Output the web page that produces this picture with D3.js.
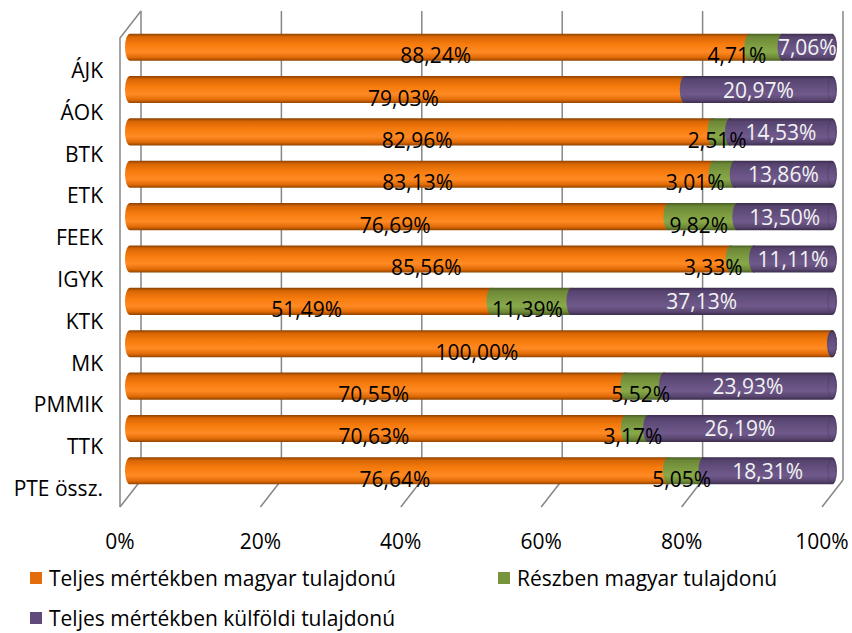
<!DOCTYPE html>
<html>
<head>
<meta charset="utf-8">
<script src="https://cdn.jsdelivr.net/npm/d3@7"></script>
<style>
  body { margin: 0; background: #fff; }
  svg { display: block; font-family: 'Open Sans', sans-serif; }
</style>
</head>
<body>
<svg id="chart"></svg>
<script>
// categories top to bottom
const categories = ['ÁJK', 'ÁOK', 'BTK', 'ETK', 'FEEK', 'IGYK', 'KTK', 'MK', 'PMMIK', 'TTK', 'PTE össz.'];
const seriesNames = ['Teljes mértékben magyar tulajdonú', 'Részben magyar tulajdonú', 'Teljes mértékben külföldi tulajdonú'];
const fullHungarian = [88.24, 79.03, 82.96, 83.13, 76.69, 85.56, 51.49, 100.00, 70.55, 70.63, 76.64];
const partHungarian = [4.71, 0, 2.51, 3.01, 9.82, 3.33, 11.39, 0, 5.52, 3.17, 5.05];
const fullForeign = [7.06, 20.97, 14.53, 13.86, 13.50, 11.11, 37.13, 0, 23.93, 26.19, 18.31];
const tickValues = [0, 20, 40, 60, 80, 100];

// labels that excel pushed to the left
const nudgedGreen = ['ÁJK', 'ETK', 'IGYK'];

const width = 852;
const height = 633;
const depth = { dx: 21, dy: -27 };
const fontSize = 21;

const svg = d3.select('#chart').attr('width', width).attr('height', height);

const xFront = d3.scaleLinear().domain([0, 100]).range([120, 822]);
const xBack = d3.scaleLinear().domain([0, 100]).range([120 + depth.dx, 822 + depth.dx]);
const xBar = d3.scaleLinear().domain([0, 100]).range([130, 832]);
const yBar = d3.scaleBand().domain(categories).range([26, 492]).paddingInner(0.36).paddingOuter(0.18);
const yLabel = d3.scaleBand().domain(categories).range([49, 509]);

const floorFront = 507;
const floorBack = floorFront + depth.dy;
const wallTop = 11;

const locale = d3.formatLocale({ decimal: ',', thousands: ' ', grouping: [3], currency: ['', ''] });
const fmt = locale.format('.2f');

const colors = [
  { name: 'orange', legend: '#e46c0a', stops: ['#8a4000', '#d96604', '#f77c0e', '#ff8a24', '#e06a05', '#8f4300'], text: '#000' },
  { name: 'green', legend: '#77933c', stops: ['#4a5e25', '#6c8736', '#7c9a40', '#88a94a', '#6f8a37', '#4a5e25'], text: '#000' },
  { name: 'purple', legend: '#604a7b', stops: ['#3b2d4d', '#57436f', '#64507f', '#70598c', '#59466f', '#3b2d4d'], text: '#f2f2f2' }
];

const defs = svg.append('defs');
colors.forEach((c) => {
  const g = defs.append('linearGradient').attr('id', 'grad-' + c.name)
    .attr('x1', 0).attr('y1', 0).attr('x2', 0).attr('y2', 1);
  const offs = [0, 0.12, 0.4, 0.68, 0.88, 1];
  c.stops.forEach((s, i) => g.append('stop').attr('offset', offs[i]).attr('stop-color', s));
});

// walls and floor
const grid = svg.append('g').attr('stroke', '#868686').attr('stroke-width', 1.5).attr('fill', 'none');
grid.selectAll('line.v')
  .data(tickValues)
  .enter()
  .append('line')
  .attr('x1', (d) => xBack(d)).attr('x2', (d) => xBack(d))
  .attr('y1', wallTop).attr('y2', floorBack);
grid.selectAll('line.f')
  .data(tickValues)
  .enter()
  .append('line')
  .attr('x1', (d) => xBack(d)).attr('y1', floorBack)
  .attr('x2', (d) => xFront(d)).attr('y2', floorFront);
grid.append('path')
  .attr('d', 'M' + xBack(0) + ',' + wallTop + 'L' + xFront(0) + ',' + (wallTop - depth.dy) +
    'L' + xFront(0) + ',' + floorFront);

// stacked bars
const stackData = categories.map((c, i) => ({
  cat: c,
  segs: [fullHungarian[i], partHungarian[i], fullForeign[i]]
}));

const cap = 5;
const bw = yBar.bandwidth();
const rows = svg.append('g').selectAll('g')
  .data(stackData)
  .enter()
  .append('g');

rows.each(function (d) {
  const row = d3.select(this);
  let start = 0;
  d.segs.forEach((v, si) => {
    const x0 = xBar(start);
    const x1 = xBar(start + v);
    row.append('rect')
      .attr('x', x0 - cap)
      .attr('y', yBar(d.cat))
      .attr('width', x1 - x0 + 2 * cap)
      .attr('height', bw)
      .attr('rx', cap).attr('ry', bw / 2)
      .attr('fill', 'url(#grad-' + colors[si].name + ')');
    start += v;
  });
  // end face of the cylinder
  row.append('ellipse')
    .attr('cx', xBar(100))
    .attr('cy', yBar(d.cat) + bw / 2)
    .attr('rx', cap - 1).attr('ry', bw / 2 - 1)
    .attr('fill', 'none')
    .attr('stroke', '#3b2d4d')
    .attr('stroke-width', 1)
    .attr('opacity', 0.35);
});

// data labels
rows.each(function (d) {
  const row = d3.select(this);
  let start = 0;
  d.segs.forEach((v, si) => {
    const mid = start + v / 2;
    start += v;
    if (v === 0) return;
    let x = xBar(mid);
    let y = yBar(d.cat) + bw / 2;
    if (si < 2) { x -= 4; y += 8; }
    if (si === 1 && nudgedGreen.includes(d.cat)) x -= 25;
    row.append('text')
      .attr('x', x).attr('y', y)
      .attr('text-anchor', 'middle')
      .attr('dominant-baseline', 'central')
      .attr('font-size', fontSize)
      .attr('fill', colors[si].text)
      .text(fmt(v) + '%');
  });
});

// category labels
svg.append('g').selectAll('text')
  .data(categories)
  .enter()
  .append('text')
  .attr('x', 103)
  .attr('y', (d) => yLabel(d) + yLabel.bandwidth() / 2)
  .attr('text-anchor', 'end')
  .attr('dominant-baseline', 'central')
  .attr('font-size', fontSize)
  .text((d) => d);

// x axis labels
svg.append('g').selectAll('text')
  .data(tickValues)
  .enter()
  .append('text')
  .attr('x', (d) => xFront(d))
  .attr('y', 541)
  .attr('text-anchor', 'middle')
  .attr('dominant-baseline', 'central')
  .attr('font-size', fontSize)
  .text((d) => d + '%');

// legend
const legendPos = [{ x: 30, y: 578 }, { x: 498, y: 578 }, { x: 30, y: 618 }];
const legend = svg.append('g').selectAll('g')
  .data(seriesNames)
  .enter()
  .append('g')
  .attr('transform', (d, i) => 'translate(' + legendPos[i].x + ',' + legendPos[i].y + ')');
legend.append('rect')
  .attr('x', 0).attr('y', -6).attr('width', 12).attr('height', 12)
  .attr('fill', (d, i) => colors[i].legend);
legend.append('text')
  .attr('x', 19).attr('y', 0)
  .attr('dominant-baseline', 'central')
  .attr('font-size', fontSize)
  .text((d) => d);
</script>
</body>
</html>
